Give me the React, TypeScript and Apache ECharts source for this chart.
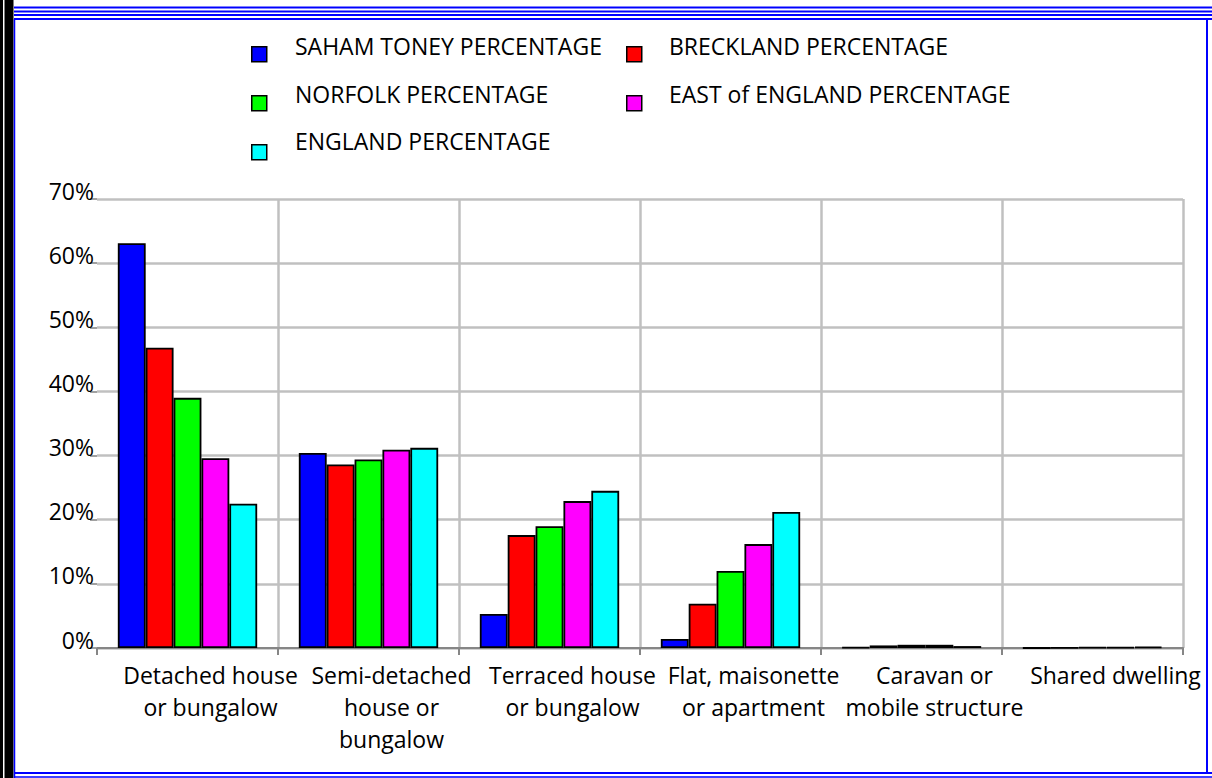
import React, { useEffect, useRef } from "react";
import * as echarts from "echarts";

const categories = [
  "Detached house\nor bungalow",
  "Semi-detached\nhouse or\nbungalow",
  "Terraced house\nor bungalow",
  "Flat, maisonette\nor apartment",
  "Caravan or\nmobile structure",
  "Shared dwelling",
];
const sahamToney = [63.1, 30.4, 5.3, 1.4, 0.1, 0];
const breckland = [46.8, 28.6, 17.6, 6.9, 0.4, 0.03];
const norfolk = [39.0, 29.4, 19.0, 12.0, 0.5, 0.1];
const eastEngland = [29.6, 30.9, 22.9, 16.2, 0.5, 0.1];
const england = [22.5, 31.2, 24.5, 21.2, 0.3, 0.2];
const seriesNames = [
  "SAHAM TONEY PERCENTAGE",
  "BRECKLAND PERCENTAGE",
  "NORFOLK PERCENTAGE",
  "EAST of ENGLAND PERCENTAGE",
  "ENGLAND PERCENTAGE",
];
const seriesColors = ["#0000ff", "#ff0000", "#00ff00", "#ff00ff", "#00ffff"];
const seriesData = [sahamToney, breckland, norfolk, eastEngland, england];

const FONT = "'Open Sans', 'Noto Sans', sans-serif";

export default function App() {
  const ref = useRef<HTMLDivElement>(null);
  useEffect(() => {
    document.body.style.margin = "0";
    const chart = echarts.init(ref.current!, null, { renderer: "svg" });
    const col1 = [seriesNames[0], seriesNames[2], seriesNames[4]];
    const col2 = [seriesNames[1], seriesNames[3]];
    // legends that draw only the square markers
    const iconLegend = (left: number, data: string[]) => ({
      left,
      top: 41,
      orient: "vertical",
      icon: "rect",
      itemWidth: 15,
      itemHeight: 15,
      itemGap: 32.5,
      selectedMode: false,
      formatter: () => "",
      itemStyle: { borderColor: "#000", borderWidth: 1.5 },
      textStyle: { fontSize: 8, lineHeight: 8 },
      data,
    });
    // legends that draw only the names
    const textLegend = (left: number, data: string[]) => ({
      left,
      top: 29,
      orient: "vertical",
      icon: "rect",
      itemWidth: 1,
      itemHeight: 24,
      itemGap: 23.5,
      selectedMode: false,
      itemStyle: { opacity: 0, borderWidth: 0 },
      textStyle: { fontFamily: FONT, fontSize: 23, lineHeight: 24, color: "#000" },
      data,
    });
    const blue = "#0000ff";
    const option: any = {
      animation: false,
      backgroundColor: "#fff",
      textStyle: { fontFamily: FONT },
      legend: [
        iconLegend(246, col1),
        iconLegend(621, col2),
        textLegend(284, col1),
        textLegend(658, col2),
      ],
      grid: { left: 97, right: 29, top: 199, bottom: 130, containLabel: false },
      xAxis: {
        type: "category",
        data: categories,
        axisLine: { show: true, lineStyle: { color: "#868686", width: 2 } },
        axisTick: { show: true, length: 7, lineStyle: { color: "#868686", width: 2 } },
        splitLine: { show: true, showMinLine: false, lineStyle: { color: "#c0c0c0", width: 2.5 } },
        axisLabel: {
          interval: 0,
          margin: 11,
          color: "#000",
          fontFamily: FONT,
          fontSize: 23,
          lineHeight: 32,
          padding: [0, 0, 0, 46],
        },
      },
      yAxis: {
        type: "value",
        min: 0,
        max: 70,
        interval: 10,
        axisLine: { show: false },
        axisTick: { show: true, length: 7, lineStyle: { color: "#a0a0a0", width: 2 } },
        splitLine: { show: true, lineStyle: { color: "#c0c0c0", width: 2.5 } },
        axisLabel: {
          formatter: "{value}%",
          margin: 3,
          color: "#000",
          fontFamily: FONT,
          fontSize: 23,
          lineHeight: 17,
          verticalAlign: "bottom",
        },
      },
      series: seriesNames.map((name, i) => ({
        name,
        type: "bar",
        data: seriesData[i],
        barGap: "0%",
        barCategoryGap: "23%",
        itemStyle: { color: seriesColors[i], borderColor: "#000", borderWidth: 1.8 },
      })),
      graphic: [
        { type: "rect", silent: true, shape: { x: 0, y: 0, width: 3, height: 778 }, style: { fill: "#000" } },
        { type: "rect", silent: true, shape: { x: 4.5, y: 0, width: 9, height: 778 }, style: { fill: "#000" } },
        { type: "line", silent: true, shape: { x1: 14.5, y1: 19, x2: 14.5, y2: 778 }, style: { stroke: blue, lineWidth: 1.5 } },
        { type: "line", silent: true, shape: { x1: 14, y1: 7.5, x2: 1212, y2: 7.5 }, style: { stroke: blue, lineWidth: 2 } },
        { type: "line", silent: true, shape: { x1: 14, y1: 11.5, x2: 1212, y2: 11.5 }, style: { stroke: blue, lineWidth: 2 } },
        { type: "line", silent: true, shape: { x1: 14, y1: 15, x2: 1212, y2: 15 }, style: { stroke: blue, lineWidth: 2 } },
        { type: "line", silent: true, shape: { x1: 14, y1: 19, x2: 1212, y2: 19 }, style: { stroke: blue, lineWidth: 2 } },
        { type: "line", silent: true, shape: { x1: 1207, y1: 19, x2: 1207, y2: 774 }, style: { stroke: blue, lineWidth: 2 } },
        { type: "line", silent: true, shape: { x1: 14, y1: 773, x2: 1212, y2: 773 }, style: { stroke: blue, lineWidth: 2 } },
        { type: "line", silent: true, shape: { x1: 14, y1: 777, x2: 1212, y2: 777 }, style: { stroke: blue, lineWidth: 1.5 } },
      ],
    };
    chart.setOption(option);
    return () => chart.dispose();
  }, []);
  return (
    <div
      ref={ref}
      style={{ position: "absolute", left: 0, top: 0, width: 1212, height: 778, background: "#fff" }}
    />
  );
}
